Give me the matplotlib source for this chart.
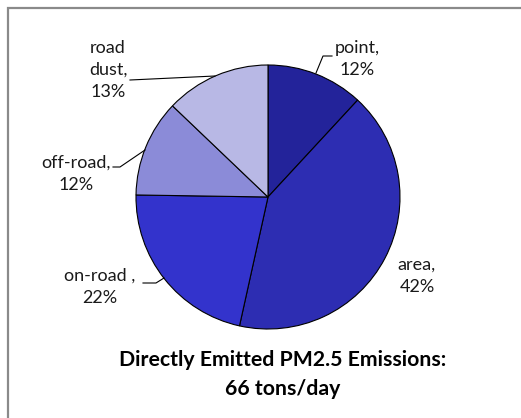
import matplotlib
matplotlib.use("Agg")
import matplotlib.pyplot as plt
from matplotlib.patches import Rectangle

# PM2.5 source shares, clockwise from 12 o'clock
sources = ["point", "area", "on-road ", "off-road", "road\ndust"]
shares = [12, 42, 22, 12, 13]
colors = ["#23239A", "#2D2DB2", "#3333CC", "#8B8BD8", "#B8B8E5"]
title_lines = ["Directly Emitted PM2.5 Emissions:", "66 tons/day"]

W, H = 521, 418
fig = plt.figure(figsize=(W / 100, H / 100), dpi=100)
ax = fig.add_axes([0, 0, 1, 1])

# work in pixel coordinates measured from the top-left corner
def py(y):
    return H - y

cx, cy, r = 268, 197, 132
ax.pie(shares, colors=colors, startangle=90, counterclock=False,
       center=(cx, py(cy)), radius=r,
       wedgeprops=dict(edgecolor="black", linewidth=0.8))

ax.set_xlim(0, W)
ax.set_ylim(0, H)
ax.set_aspect("equal")
ax.axis("off")

# chart frame, running off the right and bottom edges
ax.add_patch(Rectangle((8, py(600)), 700, 592, fill=False,
                       edgecolor="#8a8a8a", linewidth=1.6))

font = "Lato"
lab_kw = dict(fontsize=13, family=font, ha="center", va="center",
              color="#1a1a1a", linespacing=1.45)

# (label centre x, first line y) and leader line points
placements = [
    ((357, 47), [(316, 73), (323, 56), (332, 56)]),
    ((417, 264), None),
    ((100, 275), [(143, 283), (156, 283), (164, 278)]),
    ((76, 162), [(113, 167), (120, 167), (145, 150)]),
    ((108, 46), [(130, 80), (215, 76)]),
]

for name, share, (pos, leader) in zip(sources, shares, placements):
    text = f"{name},\n{share}%"
    nlines = text.count("\n") + 1
    x, y0 = pos
    yc = y0 + (nlines - 1) * 24 / 2
    ax.text(x, py(yc), text, **lab_kw)
    if leader:
        xs = [p[0] for p in leader]
        ys = [py(p[1]) for p in leader]
        ax.plot(xs, ys, color="black", linewidth=0.8)

for i, line in enumerate(title_lines):
    ax.text(283, py(360 + i * 29), line, fontsize=15.3, family=font,
            fontweight="bold", ha="center", va="center", color="black")

fig.savefig("out.png", dpi=100)
